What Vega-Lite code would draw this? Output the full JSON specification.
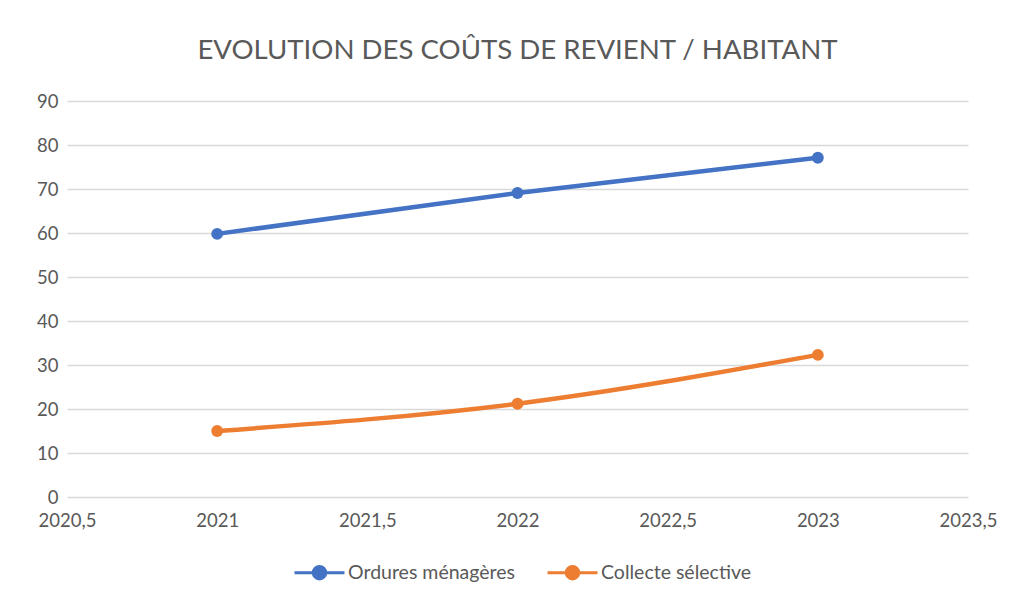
{
  "$schema": "https://vega.github.io/schema/vega-lite/v6.json",
  "width": 901,
  "height": 396,
  "autosize": {"type": "none"},
  "padding": {"left": 67, "top": 101, "right": 42, "bottom": 99},
  "background": "white",
  "config": {
    "font": "Lato",
    "view": {"stroke": null},
    "axis": {"labelColor": "#595959", "labelFont": "Lato", "labelFontSize": 18.5, "grid": true, "gridColor": "#d9d9d9", "gridWidth": 1.3, "domain": false, "ticks": false, "labelFlush": false, "labelOverlap": false},
    "legend": {"labelColor": "#595959", "labelFont": "Lato", "labelFontSize": 19.5, "labelLimit": 400}
  },
  "title": {"text": "EVOLUTION DES COÛTS DE REVIENT / HABITANT", "fontSize": 27.6, "font": "Lato", "fontWeight": "normal", "color": "#595959", "anchor": "middle", "offset": 27},
  "data": {
    "values": [
      {"annee": 2021, "valeur": 59.8, "serie": "Ordures ménagères"},
      {"annee": 2022, "valeur": 69.1, "serie": "Ordures ménagères"},
      {"annee": 2023, "valeur": 77.1, "serie": "Ordures ménagères"},
      {"annee": 2021, "valeur": 15.0, "serie": "Collecte sélective"},
      {"annee": 2022, "valeur": 21.2, "serie": "Collecte sélective"},
      {"annee": 2023, "valeur": 32.3, "serie": "Collecte sélective"}
    ]
  },
  "encoding": {
    "x": {"field": "annee", "type": "quantitative", "scale": {"domain": [2020.5, 2023.5], "nice": false, "zero": false},
      "axis": {"title": null, "values": [2020.5, 2021, 2021.5, 2022, 2022.5, 2023, 2023.5], "grid": false, "labelPadding": 14, "labelExpr": "replace(format(datum.value, '.1~f'), '.', ',')"}},
    "y": {"field": "valeur", "type": "quantitative", "scale": {"domain": [0, 90], "nice": false},
      "axis": {"title": null, "values": [0, 10, 20, 30, 40, 50, 60, 70, 80, 90], "labelPadding": 9}},
    "color": {"field": "serie", "type": "nominal", "sort": ["Ordures ménagères", "Collecte sélective"],
      "scale": {"domain": ["Ordures ménagères", "Collecte sélective"], "range": ["#4472C4", "#ED7D31"]},
      "legend": {"title": null, "orient": "none", "direction": "horizontal", "legendX": 226, "legendY": 445, "columnPadding": 26, "labelOffset": 2,
        "symbolType": "M-1,0L1,0M0.25,0A0.25,0.25,0,1,1,-0.25,0A0.25,0.25,0,1,1,0.25,0", "symbolSize": 2500, "symbolStrokeWidth": 3}}
  },
  "layer": [
    {"mark": {"type": "line", "interpolate": "monotone", "strokeWidth": 4.5, "strokeCap": "round"}},
    {"mark": {"type": "point", "filled": true, "size": 140, "opacity": 1}}
  ]
}
